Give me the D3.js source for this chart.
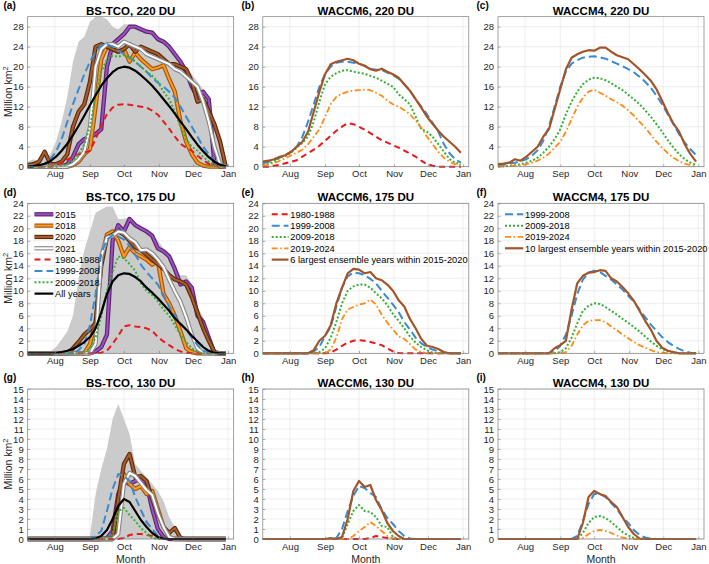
<!DOCTYPE html>
<html><head><meta charset="utf-8">
<script src="https://cdn.jsdelivr.net/npm/d3@7"></script>
<style>
body{margin:0;background:#fff}
text{font-family:"Liberation Sans",Arial,Helvetica,sans-serif}
</style>
</head><body>
<svg id="chart" width="709" height="564"></svg>
<script>
// ---------------- DATA (day-of-year, 5-day sampling, Jul 8 .. Dec 30) ----------------
const DAYS = [189,194,199,204,209,214,219,224,229,234,239,244,249,254,259,264,269,274,279,284,289,294,299,304,309,314,319,324,329,334,339,344,349,354,359,364];
const MONTH_LABELS = ["Aug","Sep","Oct","Nov","Dec","Jan"];
const MONTH_DAYS = [213,244,274,305,335,366];
const YTICKS_220 = [0,4,8,12,16,20,24,28];
const YTICKS_175 = [0,2,4,6,8,10,12,14,16,18,20,22,24];
const YTICKS_130 = [0,1,2,3,4,5,6,7,8,9,10,11,12,13,14,15];

// (a) BS-TCO 220 DU
const a_range = [1,1.5,1,2,2.5,5,9,14,21,25,26,29,30,30,29.5,28,27.5,28.5,28.5,28.3,27.8,27.3,27,26,25.5,24.5,23,21.5,20,18.5,17,15.5,14,9,5,1];
const a_2015 = [0,0,0,0,0,0,0,0.5,2,4.5,5.5,6,6.5,7.5,20,24.5,25.5,26.5,28,28,27.5,27,26.8,25.5,25,24,22.5,21,19,16,14,15,13.5,0.5,0,0];
const a_2018 = [0,0,0,0,0,0,0,0,0.3,1,2.5,3.5,12,21.5,24,23.5,23,23.5,21,22.8,21.5,20.5,19.5,19.8,20.3,17.5,15,9,5,2.5,0.8,0.2,0,0,0,0];
const a_2020 = [0.3,0.5,1,3,0.5,0.5,1,2.5,8,11,12.5,17,24,24.5,24,23.5,23,23.5,24.5,23,24,23.5,23,22.5,21.5,20.5,20.5,20,19.5,17,13,13.5,11,8.5,5,0];
const a_2021 = [0,0,0,0,0,0,0,0,0.5,1.5,3,8,20,23.5,24.5,24.5,24,25,24.5,24,23.5,22.5,22,21.5,21,20.5,19.5,19,18,17,16,13,9,4,0.5,0];
const a_8088 = [0,0,0,0,0,0.3,0.8,1.4,2,2.5,2.8,3.2,5.5,8.2,10.5,11.8,12.4,12.5,12.4,12.2,12,11.8,11.2,10.4,9,7.6,6,4.6,3.8,3.2,2.2,1.3,0.6,0.2,0,0];
const a_9908 = [0,0,0.2,0.6,1.5,3,5.5,9,12.5,15.5,18.5,21,23,24.3,24.5,24,23.2,22.5,21.8,21,20,19,17.8,16.8,16,15,13.8,12,10,8,6,4,2.5,1.2,0.5,0.2];
const a_0918 = [0,0,0,0,0,0,0.2,0.5,1.2,2.5,4.5,8,14,19,21.5,22.2,22,22.3,22,21,20,19,18.2,17,15,13.5,11,8,5.5,4,3.2,2,1,0.3,0,0];
const a_all  = [0,0.1,0.3,0.6,1.1,2,3.2,4.6,6.3,8.2,10.2,12.3,14.3,16.2,17.7,18.9,19.7,20,19.8,19.2,18.3,17.3,16.2,14.9,13.5,12.1,10.6,9,7.5,5.9,4.4,3.1,1.9,1,0.4,0.1];

// (b) WACCM6 220 DU
const b_8088 = [0,0,0.2,0.4,0.7,1,1.3,2,2.7,3.4,4.2,5.2,6.2,7.2,8,8.7,8.5,8,7.4,6.7,6,5.3,4.8,4.3,3.8,3.2,2.6,2,1.2,0.5,0.2,0,0,0,0,0];
const b_9908 = [0.7,1,1.3,1.8,2.3,3,4,6,9,12.5,16,18.5,20,20.8,21,21,20.8,20.6,20.2,19.6,19.4,19.4,18.8,18.3,17.6,16.5,15.2,13.5,12,10.5,8.8,7,4.5,2.7,1.5,0.8];
const b_0918 = [0.3,0.6,1,1.8,2.2,2.8,3.8,4.8,6,9,13,16.5,18,18.7,19.2,19.3,19,18.8,18.6,18.2,17.8,17.2,16.6,16,14.5,13.5,12.5,10,7.5,7,6,4.5,3,1.5,0.8,0.5];
const b_1924 = [0.2,0.4,0.7,1.2,1.7,2.3,2.8,3.4,4.5,6,7.5,10,12.5,14,14.6,15,15.2,15.3,15.4,15.3,14.8,14.2,13.2,12.5,12,11.3,10.5,9.2,7.8,6,4.5,3,1.8,1,0.5,0.3];
const b_big  = [1,1.2,1.5,2,2.3,3,4,5,7,11,15,18.5,20.5,21,21.3,21.6,21.3,20.6,20.2,19.5,19.2,19.6,19,18.5,17.8,16.5,15.2,13.5,11.8,10,8.6,7.2,6,5,4,2.8];

// (c) WACCM4 220 DU
const c_9908 = [0.3,0.4,0.6,0.8,1.1,1.5,2.2,3.3,5.2,8,12,16,19,20.6,21.3,21.8,22,22.1,21.9,21.6,21.1,20.6,20.1,19.5,18.9,18,17,15.8,14.2,12.5,10.5,8.5,6.5,4.8,3.5,2.3];
const c_0918 = [0.1,0.1,0.2,0.3,0.5,0.8,1.2,1.8,2.8,4,5.5,7.5,10.5,13,15,16.5,17.4,17.8,17.7,17.3,16.7,16,15.3,14.4,13.5,12.5,11.3,10,8.5,7,5.3,3.8,2.5,1.5,0.8,0.4];
const c_1924 = [0,0.05,0.1,0.2,0.3,0.5,0.8,1.2,1.8,2.6,3.8,5,7,9.5,12,13.8,15,15.4,14.8,14.2,13.5,12.9,12.2,11.3,10.2,9,7.8,6.4,5,3.8,2.7,1.8,1.1,0.6,0.3,0.2];
const c_big  = [0.5,0.6,0.8,1.5,1.2,2,3,4,6,7.5,11.5,15.5,19.5,21.8,22.5,23,23.3,23.2,23.8,23.8,23,22.3,21.9,21.5,20.5,19.5,18.4,17.2,15.5,13.2,10.8,8.6,7,4.5,2.5,1];

// (d) BS-TCO 175 DU
const d_range = [0,0,0,0,0.3,1,2.2,3.5,6,12,16.5,19.5,22.5,23,23.5,23.5,21.5,21.5,21.8,21,20,19.5,19,18,16.8,16,14,12.5,12.5,11,7.5,5.8,3,0.5,0,0];
const d_2015 = [0,0,0,0,0,0,0,0,0,0,0,0,0.3,1,3,18,20.5,19.5,21.5,20.5,20,19.5,18.8,16.8,16.3,15.5,13.5,11,11.5,10.5,6,5,2.5,0,0,0];
const d_2018 = [0,0,0,0,0,0,0,0,0,0,0,1.5,5,15,19,19.5,18,15.5,17,16,15.5,15,14.2,14.7,9.5,8,6,3.5,0.8,0.2,0,0,0,0,0,0];
const d_2020 = [0,0,0,0,0,0,0,0,0.8,1.8,3,3.8,4.8,14,18.5,19,19.5,19,18,17,16.5,15.8,15,14.3,13.5,12.5,11.8,11.5,11,9,6.5,4,2,0.2,0,0];
const d_2021 = [0,0,0,0,0,0,0,0,0,0,0,0,1.5,15.5,18.5,18.8,19.5,19.3,18.4,17.8,16.5,16.6,16,15,13.8,11.8,9.9,8.2,5.8,3,0.8,0,0,0,0,0];
const d_8088 = [0,0,0,0,0,0,0,0,0,0,0,0,0,0.1,0.4,1.5,2.8,4.3,4.5,4.3,4.2,4,3.6,2.6,1.9,1.3,0.7,0.3,0.1,0,0,0,0,0,0,0];
const d_9908 = [0,0,0,0,0,0,0,0,0,0.5,1.5,4.5,9.5,16,18.2,18.9,18.7,18.2,17.2,15.8,14.2,13,12,11,9.3,7.5,6,4.8,3.8,2.5,1.3,0.4,0.1,0,0,0];
const d_0918 = [0,0,0,0,0,0,0,0,0,0,0.2,0.8,2.5,6,10,13,15.5,15.2,14.3,13.2,11.2,10,9.3,8.3,7,6,4.5,3,1.8,0.8,0.2,0,0,0,0,0];
const d_all  = [0,0,0,0,0,0.05,0.2,0.4,0.7,1.2,1.8,2.6,4,6.5,9.5,11.5,12.5,12.8,12.7,12.2,11.5,10.5,9.7,8.8,7.8,6.8,5.6,4.7,3.8,2.8,1.9,1,0.4,0.1,0,0];

// (e) WACCM6 175 DU
const e_8088 = [0,0,0,0,0,0,0,0,0,0,0,0,0.1,0.6,1.2,1.7,2,2.1,2,1.8,1.6,1.3,0.8,0.3,0.05,0,0,0,0,0,0,0,0,0,0,0];
const e_9908 = [0,0,0,0,0,0,0,0,0,0.3,1,2.8,4.2,7.5,10.5,12.3,12.9,12.8,12.5,11.9,11.2,10,8.9,7.8,6.6,5,3.8,2.5,1.6,1,0.6,0.3,0.1,0,0,0];
const e_0918 = [0,0,0,0,0,0,0,0,0,0,0.2,0.8,2.5,5,8,10,10.7,11,11,10.5,9.6,8.8,7.7,6.3,5.2,4,2.7,1.7,1,0.5,0.1,0,0,0,0,0];
const e_1924 = [0,0,0,0,0,0,0,0,0,0,0,0,0.6,2.5,5.5,7,7.4,7.8,8,8.6,7.8,6.2,4.9,3.8,2.7,2.3,1.5,0.6,0.2,0,0,0,0,0,0,0];
const e_big  = [0,0,0,0,0,0,0,0,0,0.5,2,2.8,4.5,8,10.5,12.8,13.5,13.4,12.8,13,12,11.7,11,10,8.5,7.5,5.5,4,2.3,1.2,1,0.7,0.2,0,0,0];

// (f) WACCM4 175 DU
const f_9908 = [0,0,0,0,0,0,0,0,0,0,0.3,1.2,3,6,9.5,11.8,12.9,13.2,13,12.4,11.8,11,10.2,9.2,8.3,7,5.8,4.6,3.6,2.6,1.8,1.2,0.7,0.3,0.1,0];
const f_0918 = [0,0,0,0,0,0,0,0,0,0,0,0.2,0.8,2.5,4.8,6.8,7.6,8,7.9,7.4,6.8,6.2,5.5,4.9,4.2,3.5,2.7,1.9,1.2,0.7,0.3,0.1,0,0,0,0];
const f_1924 = [0,0,0,0,0,0,0,0,0,0,0,0,0.2,1.2,3,4.5,5.2,5.3,5.3,5,4.3,3.7,3,2.4,1.8,1.3,0.9,0.5,0.2,0.1,0,0,0,0,0,0];
const f_big  = [0,0,0,0,0,0,0,0,0,0,0.8,1.3,2,7,11.2,12.4,12.9,13,13.3,13.2,12,11.5,10.6,9.6,8.4,6.8,5.2,3.8,2,0.9,0.4,0.2,0,0,0,0];

// (g) BS-TCO 130 DU
const g_range = [0,0,0,0,0,0,0,0,0,0,0,0.3,4.5,7,9,12,13.5,12,10.5,7.5,6.8,6.2,5.5,4.8,3.8,2.2,1.2,0.2,0,0,0,0,0,0,0,0];
const g_2015 = [0,0,0,0,0,0,0,0,0,0,0,0,0,0,0.1,0.8,4.5,5.8,5.5,5.8,6,5.5,3,1,0.2,0,0,0,0,0,0,0,0,0,0,0];
const g_2018 = [0,0,0,0,0,0,0,0,0,0,0,0,0,0,0,0,2,6.5,5.5,5,5.3,4.5,4.8,3,1.2,0.2,0,0,0,0,0,0,0,0,0,0];
const g_2020 = [0,0,0,0,0,0,0,0,0,0,0,0,0,0,0,0,4,7.5,8.5,6.2,6.3,5.8,4,2.5,1.2,0.6,1.1,0.1,0,0,0,0,0,0,0,0];
const g_2021 = [0,0,0,0,0,0,0,0,0,0,0,0,0,0,0,0,0.5,5.5,6.6,6.3,5.6,4.9,4.4,2.6,1.2,0.2,0,0,0,0,0,0,0,0,0,0];
const g_8088 = [0,0,0,0,0,0,0,0,0,0,0,0,0,0,0,0,0,0.1,0.4,0.5,0.5,0.4,0.3,0.1,0,0,0,0,0,0,0,0,0,0,0,0];
const g_9908 = [0,0,0,0,0,0,0,0,0,0,0,0,0.3,0.8,2.8,5,6.5,6.3,5.8,4.2,2.9,1.7,1,0.3,0.05,0,0,0,0,0,0,0,0,0,0,0];
const g_0918 = [0,0,0,0,0,0,0,0,0,0,0,0,0,0,0,0.5,2.8,3.1,2.4,1.8,1.1,0.6,0.1,0,0,0,0,0,0,0,0,0,0,0,0,0];
const g_all  = [0,0,0,0,0,0,0,0,0,0,0,0,0.05,0.3,0.9,2,3.3,4,3.7,2.8,1.9,1.2,0.6,0.2,0.05,0,0,0,0,0,0,0,0,0,0,0];

// (h) WACCM6 130 DU
const h_8088 = [0,0,0,0,0,0,0,0,0,0,0,0,0,0,0,0,0,0,0,0.1,0.3,0.2,0.1,0,0,0,0,0,0,0,0,0,0,0,0,0];
const h_9908 = [0,0,0,0,0,0,0,0,0,0,0,0,0,0.1,1,2.8,4.3,5.3,5.1,4.6,4.2,3,2.1,1.5,0.8,0.3,0.05,0,0,0,0,0,0,0,0,0];
const h_0918 = [0,0,0,0,0,0,0,0,0,0,0,0,0,0,0.1,1.5,2.8,3.4,2.8,2.7,2.2,1.3,1.2,0.2,0,0,0,0,0,0,0,0,0,0,0,0];
const h_1924 = [0,0,0,0,0,0,0,0,0,0,0,0,0,0,0,0,0.3,0.8,1.2,1.7,1.3,0.8,0.3,0.05,0,0,0,0,0,0,0,0,0,0,0,0];
const h_big  = [0,0,0,0,0,0,0,0,0,0,0,0,0.1,0,0.2,2,4.8,5.8,5.2,5.4,3.9,2.9,1.6,0.8,0.3,0,0,0,0,0,0,0,0,0,0,0];

// (i) WACCM4 130 DU
const i_9908 = [0,0,0,0,0,0,0,0,0,0,0,0,0,0,0.3,1.8,3.5,4.5,4.5,4.2,3.6,3,2.2,1.6,0.9,0.4,0.15,0.05,0,0,0,0,0,0,0,0];
const i_0918 = [0,0,0,0,0,0,0,0,0,0,0,0,0,0,0,0.6,1.6,2.2,2.3,2.1,1.7,1.2,0.7,0.35,0.1,0,0,0,0,0,0,0,0,0,0,0];
const i_1924 = [0,0,0,0,0,0,0,0,0,0,0,0,0,0,0,0.1,0.5,0.8,0.9,0.8,0.6,0.35,0.15,0.05,0,0,0,0,0,0,0,0,0,0,0,0];
const i_big  = [0,0,0,0,0,0,0,0,0,0,0,0,0,0,0,1.6,4.2,4.8,4.5,4.3,3.7,3.2,2.2,1.2,0.5,0.05,0,0,0,0,0,0,0,0,0,0];

const LEG_OBS = ["2015","2018","2020","2021","1980-1988","1999-2008","2009-2018","All years"];
const LEG_W6  = ["1980-1988","1999-2008","2009-2018","2019-2024","6 largest ensemble years within 2015-2020"];
const LEG_W4  = ["1999-2008","2009-2018","2019-2024","10 largest ensemble years within 2015-2020"];

// ---------------- STYLES ----------------
const STYLE = {
  y2015:{thick:true, outer:"#5b246f", inner:"#9c50c0"},
  y2018:{thick:true, outer:"#a2560f", inner:"#ff981f"},
  y2020:{thick:true, outer:"#5a2a0c", inner:"#a95c2b"},
  y2021:{thick:true, outer:"#8a8a8a", inner:"#ffffff"},
  p8088:{color:"#e8191c", w:2, dash:"6,4"},
  p9908:{color:"#3a8ad0", w:2, dash:"8,4"},
  p0918:{color:"#35b035", w:2, dash:"2,2"},
  p1924:{color:"#ff8a14", w:1.8, dash:"6,2.5,1.6,2.5"},
  big:  {color:"#a3552a", w:2.2},
  all:  {color:"#000000", w:2.2}
};

const ROWS = [
  {top:16.7, ymax:30, ticks:YTICKS_220},
  {top:203.3, ymax:24, ticks:YTICKS_175},
  {top:389, ymax:15, ticks:YTICKS_130}
];
const LEFTS = [27.7, 262.8, 498];
const LABEL_X = [3.5, 241.5, 476.5];
const PW = 206, PH = 150;

const PANELS = [
  {lab:"(a)", title:"BS-TCO, 220 DU", r:0, c:0, range:a_range, series:[["y2015",a_2015],["y2018",a_2018],["y2020",a_2020],["y2021",a_2021],["p8088",a_8088],["p9908",a_9908],["p0918",a_0918],["all",a_all]]},
  {lab:"(b)", title:"WACCM6, 220 DU", r:0, c:1, series:[["p8088",b_8088],["p9908",b_9908],["p0918",b_0918],["p1924",b_1924],["big",b_big]]},
  {lab:"(c)", title:"WACCM4, 220 DU", r:0, c:2, series:[["p9908",c_9908],["p0918",c_0918],["p1924",c_1924],["big",c_big]]},
  {lab:"(d)", title:"BS-TCO, 175 DU", r:1, c:0, range:d_range, series:[["y2015",d_2015],["y2018",d_2018],["y2020",d_2020],["y2021",d_2021],["p8088",d_8088],["p9908",d_9908],["p0918",d_0918],["all",d_all]],
     legend:{keys:["y2015","y2018","y2020","y2021","p8088","p9908","p0918","all"], labels:LEG_OBS, x0:34.5, x1:53.3}},
  {lab:"(e)", title:"WACCM6, 175 DU", r:1, c:1, series:[["p8088",e_8088],["p9908",e_9908],["p0918",e_0918],["p1924",e_1924],["big",e_big]],
     legend:{keys:["p8088","p9908","p0918","p1924","big"], labels:LEG_W6, x0:271.7, x1:288.5}},
  {lab:"(f)", title:"WACCM4, 175 DU", r:1, c:2, series:[["p9908",f_9908],["p0918",f_0918],["p1924",f_1924],["big",f_big]],
     legend:{keys:["p9908","p0918","p1924","big"], labels:LEG_W4, x0:505, x1:523.3}},
  {lab:"(g)", title:"BS-TCO, 130 DU", r:2, c:0, range:g_range, series:[["y2015",g_2015],["y2018",g_2018],["y2020",g_2020],["y2021",g_2021],["p8088",g_8088],["p9908",g_9908],["p0918",g_0918],["all",g_all]]},
  {lab:"(h)", title:"WACCM6, 130 DU", r:2, c:1, series:[["p8088",h_8088],["p9908",h_9908],["p0918",h_0918],["p1924",h_1924],["big",h_big]]},
  {lab:"(i)", title:"WACCM4, 130 DU", r:2, c:2, series:[["p9908",i_9908],["p0918",i_0918],["p1924",i_1924],["big",i_big]]}
];

// ---------------- DRAW ----------------
const svg = d3.select("#chart");
const AXC = "#262626";

function drawSeries(g, pathD, st){
  if (st.thick){
    g.append("path").attr("d", pathD).attr("fill","none").attr("stroke", st.outer).attr("stroke-width", 4.3).attr("stroke-linejoin","round");
    g.append("path").attr("d", pathD).attr("fill","none").attr("stroke", st.inner).attr("stroke-width", 2.0).attr("stroke-linejoin","round");
  } else {
    const p = g.append("path").attr("d", pathD).attr("fill","none").attr("stroke", st.color).attr("stroke-width", st.w).attr("stroke-linejoin","round");
    if (st.dash) p.attr("stroke-dasharray", st.dash);
  }
}

PANELS.forEach(p => {
  const row = ROWS[p.r];
  const left = LEFTS[p.c], top = row.top;
  const x = d3.scaleLinear().domain([189, 371]).range([0, PW]);
  const y = d3.scaleLinear().domain([0, row.ymax]).range([PH, 0]);
  const g = svg.append("g").attr("transform", `translate(${left},${top})`);

  // grid
  g.append("g").selectAll("line").data(MONTH_DAYS).join("line")
    .attr("x1", d=>x(d)).attr("x2", d=>x(d)).attr("y1",0).attr("y2",PH)
    .attr("stroke","#e3e3e3").attr("stroke-width",0.6);
  g.append("g").selectAll("line").data(row.ticks).join("line")
    .attr("x1",0).attr("x2",PW).attr("y1", d=>y(d)).attr("y2", d=>y(d))
    .attr("stroke","#e3e3e3").attr("stroke-width",0.6);

  // gray range
  if (p.range){
    const area = d3.area().x((d,i)=>x(DAYS[i])).y0(y(0)).y1(d=>y(d));
    g.append("path").attr("d", area(p.range)).attr("fill","#cbcbcb");
  }

  // series
  const line = d3.line().x((d,i)=>x(DAYS[i])).y(d=>y(d));
  p.series.forEach(([key, vals]) => drawSeries(g, line(vals), STYLE[key]));

  // axes frame
  g.append("rect").attr("x",0).attr("y",0).attr("width",PW).attr("height",PH)
    .attr("fill","none").attr("stroke","#7a7a7a").attr("stroke-width",0.7);

  // axes (ticks + labels) via d3 axes
  const yAxis = d3.axisLeft(y).tickValues(row.ticks).tickSize(-2.5).tickPadding(4).tickFormat(d3.format("d"));
  const ya = g.append("g").call(yAxis);
  const xAxis = d3.axisBottom(x).tickValues(MONTH_DAYS).tickSize(-2.5).tickPadding(4)
    .tickFormat((d,i)=>MONTH_LABELS[i]);
  const xa = g.append("g").attr("transform",`translate(0,${PH})`).call(xAxis);
  [ya, xa].forEach(a => {
    a.select(".domain").remove();
    a.selectAll(".tick line").attr("stroke","#7a7a7a").attr("stroke-width",0.6);
    a.selectAll(".tick text").attr("fill",AXC).style("font-size","9.5px").style("font-family",'"Liberation Sans",Arial,sans-serif');
  });

  // title & panel label
  svg.append("text").attr("x", left + PW/2).attr("y", top - 2.2).attr("text-anchor","middle")
    .style("font-size","11.5px").style("font-weight","bold").attr("fill","#000").text(p.title);
  svg.append("text").attr("x", LABEL_X[p.c]).attr("y", top - 7.8)
    .style("font-size","10px").style("font-weight","bold").attr("fill","#000").text(p.lab);

  // y label
  if (p.c === 0){
    const t = svg.append("text").attr("transform", `translate(11.5,${top + PH/2}) rotate(-90)`)
      .attr("text-anchor","middle").style("font-size","10.5px").attr("fill",AXC);
    t.append("tspan").text("Million km");
    t.append("tspan").attr("dy","-4").style("font-size","7.5px").text("2");
  }
  // x label
  if (p.r === 2){
    svg.append("text").attr("x", left + PW/2).attr("y", top + PH + 23.5).attr("text-anchor","middle")
      .style("font-size","10.5px").attr("fill",AXC).text("Month");
  }

  // legend
  if (p.legend){
    const L = p.legend;
    L.keys.forEach((k, i) => {
      const yy = 214.3 + i * 11.33;
      const st = STYLE[k];
      const d = `M${L.x0},${yy}L${L.x1},${yy}`;
      drawSeries(svg, d, st);
      svg.append("text").attr("x", L.x1 + 1.8).attr("y", yy).attr("dy","0.35em")
        .style("font-size","9.3px").attr("fill","#000").text(L.labels[i]);
    });
  }
});
</script>
</body></html>
